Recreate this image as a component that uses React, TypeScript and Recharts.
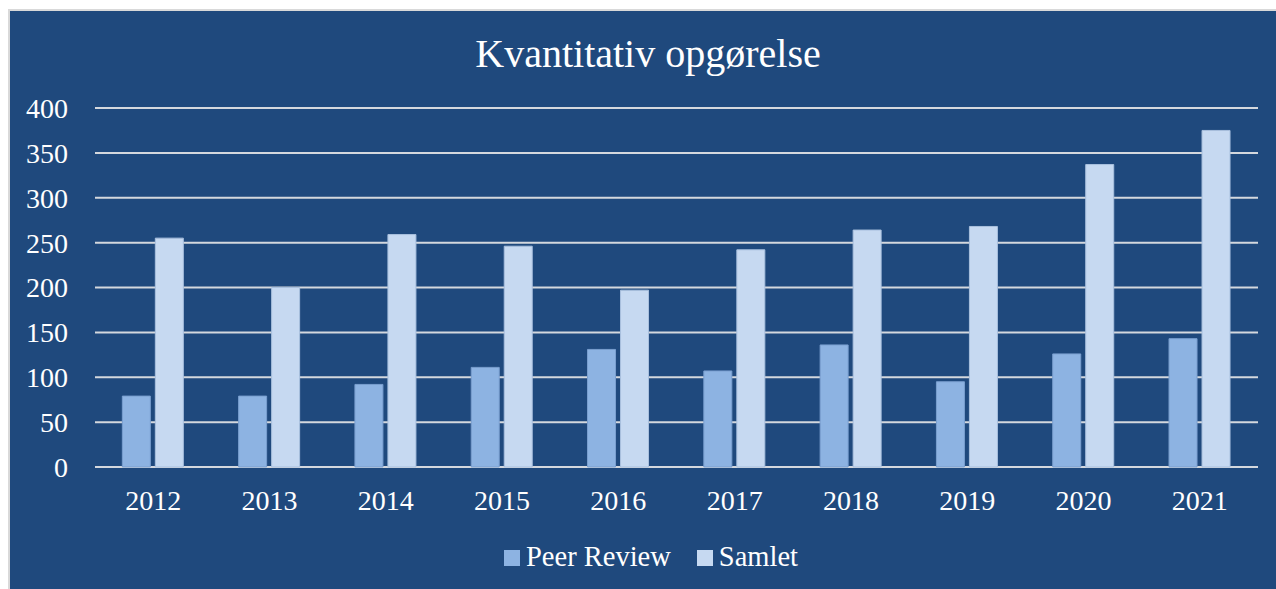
import { BarChart, Bar, XAxis, YAxis, CartesianGrid, Legend } from "recharts";

const years = ["2012", "2013", "2014", "2015", "2016", "2017", "2018", "2019", "2020", "2021"];
const peerReview = [79, 79, 92, 111, 131, 107, 136, 95, 126, 143];
const samlet = [255, 200, 259, 246, 197, 242, 264, 268, 337, 375];
const yTicks = [0, 50, 100, 150, 200, 250, 300, 350, 400];

const BG = "#1f497d";
const PEER = "#8db3e2";
const SAMLET = "#c6d9f1";
const FONT = "'Liberation Serif', 'Times New Roman', serif";

const data = years.map((year, i) => ({
  year,
  peer: peerReview[i],
  samlet: samlet[i],
}));

const legendItems = [
  { label: "Peer Review", color: PEER },
  { label: "Samlet", color: SAMLET },
];

function ChartLegend() {
  return (
    <div
      style={{
        display: "flex",
        justifyContent: "center",
        gap: 26,
        paddingLeft: 34,
        fontFamily: FONT,
      }}
    >
      {legendItems.map((item) => (
        <div key={item.label} style={{ display: "flex", alignItems: "flex-start" }}>
          <span
            style={{
              width: 16,
              height: 16,
              marginTop: 9,
              marginRight: 6,
              background: item.color,
              display: "inline-block",
            }}
          />
          <span style={{ color: "#ffffff", fontSize: 28.5, lineHeight: "32px" }}>{item.label}</span>
        </div>
      ))}
    </div>
  );
}

export default function App() {
  return (
    <div
      style={{
        position: "fixed",
        left: 8,
        top: 9,
        width: 1268,
        height: 580,
        overflow: "hidden",
        background: BG,
        borderLeft: "2px solid #d9d9d9",
        borderTop: "2px solid #d9d9d9",
      }}
    >
      <BarChart
        width={1282}
        height={578}
        data={data}
        margin={{ top: 97, right: 34, bottom: 12, left: 0 }}
        barCategoryGap="23.5%"
        barGap={5}
      >
        <text
          x={638}
          y={56}
          textAnchor="middle"
          fill="#ffffff"
          fontSize={40}
          fontFamily={FONT}
        >
          Kvantitativ opgørelse
        </text>
        <CartesianGrid vertical={false} stroke="#d4d8de" strokeWidth={2} />
        <XAxis
          dataKey="year"
          height={50}
          axisLine={false}
          tickLine={false}
          tickMargin={17}
          tick={{ fill: "#ffffff", fontSize: 28, fontFamily: FONT }}
        />
        <YAxis
          width={85}
          domain={[0, 400]}
          ticks={yTicks}
          interval={0}
          axisLine={false}
          tickLine={false}
          tickMargin={21}
          tick={{ fill: "#ffffff", fontSize: 28, fontFamily: FONT }}
        />
        <Legend
          verticalAlign="bottom"
          height={60}
          wrapperStyle={{ top: 530, bottom: "auto" }}
          content={() => <ChartLegend />}
        />
        <Bar dataKey="peer" name="Peer Review" fill={PEER} stroke="#7a9fcf" strokeWidth={1} isAnimationActive={false} />
        <Bar dataKey="samlet" name="Samlet" fill={SAMLET} stroke="#a9c0de" strokeWidth={1} isAnimationActive={false} />
      </BarChart>
    </div>
  );
}
